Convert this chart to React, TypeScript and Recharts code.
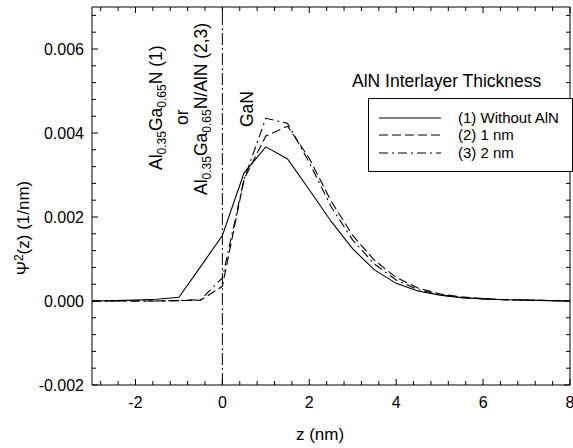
import React from 'react';
import { LineChart, Line, XAxis, YAxis, ReferenceLine, Legend, Label } from 'recharts';

// z positions (nm) and |psi|^2 (1/nm)
const zValues = [-3, -2.5, -2, -1.5, -1, -0.5, 0, 0.5, 1, 1.5, 2, 2.5, 3, 3.5, 4, 4.5, 5, 5.5, 6, 6.5, 7, 7.5, 8];
const withoutAlN = [0, 0.00001, 0.00002, 0.00004, 0.00009, 0.00082, 0.00156, 0.00305, 0.00367, 0.00338, 0.00265, 0.0019, 0.00124, 0.00074, 0.00042, 0.00024, 0.00014, 0.00008, 0.00005, 0.00003, 0.00002, 0.00001, 0];
const alN1nm = [0, 0, 0, 0, 0.00001, 0.00002, 0.00035, 0.0029, 0.00393, 0.00416, 0.0034, 0.00238, 0.00156, 0.00097, 0.00056, 0.00031, 0.00017, 0.0001, 0.00006, 0.00003, 0.00002, 0.00001, 0];
const alN2nm = [0, 0, 0, 0, 0.00001, 0.00003, 0.00055, 0.0029, 0.00435, 0.00423, 0.0033, 0.00225, 0.00145, 0.00088, 0.0005, 0.00027, 0.00015, 0.00008, 0.00005, 0.00003, 0.00002, 0.00001, 0];

const seriesNames = ['(1) Without AlN', '(2) 1 nm', '(3) 2 nm'];
const xLabelTicks = [-2, 0, 2, 4, 6, 8];
const yLabelTicks = [-0.002, 0, 0.002, 0.004, 0.006];

const FONT = '"Liberation Sans", Arial, Helvetica, sans-serif';
const dashes = ['', '9 4', '9 4 2 4'];

const data = zValues.map((z, i) => ({ z, s1: withoutAlN[i], s2: alN1nm[i], s3: alN2nm[i] }));

// minor ticks: 0.4 nm and 0.0004 1/nm
const xTicks = Array.from({ length: 28 }, (_, i) => +(-2.8 + 0.4 * i).toFixed(1));
const yTicks = Array.from({ length: 23 }, (_, i) => +(-0.002 + 0.0004 * i).toFixed(4));

const isMajor = (v: number, list: number[]) => list.some((t) => Math.abs(t - v) < 1e-9);

function BottomTick({ x, y, payload }: any) {
  const major = isMajor(payload.value, xLabelTicks);
  return (
    <g>
      <line x1={x} x2={x} y1={y} y2={y - (major ? 6 : 4)} stroke="#000" />
      {major && (
        <text x={x} y={y + 23} textAnchor="middle" fontSize={16} fontFamily={FONT} fill="#000">
          {payload.value}
        </text>
      )}
    </g>
  );
}

function TopTick({ x, y, payload }: any) {
  const major = isMajor(payload.value, xLabelTicks);
  return <line x1={x} x2={x} y1={y} y2={y + (major ? 6 : 4)} stroke="#000" />;
}

function LeftTick({ x, y, payload }: any) {
  const major = isMajor(payload.value, yLabelTicks);
  return (
    <g>
      <line x1={x} x2={x + (major ? 6 : 4)} y1={y} y2={y} stroke="#000" />
      {major && (
        <text x={x - 8} y={y} dy="0.36em" textAnchor="end" fontSize={16} fontFamily={FONT} fill="#000">
          {payload.value.toFixed(3)}
        </text>
      )}
    </g>
  );
}

function RightTick({ x, y, payload }: any) {
  const major = isMajor(payload.value, yLabelTicks);
  return <line x1={x} x2={x - (major ? 6 : 4)} y1={y} y2={y} stroke="#000" />;
}

function YTitle() {
  const x = 29;
  const y = 228;
  return (
    <text x={x} y={y} transform={`rotate(-90, ${x}, ${y})`} textAnchor="middle" fontSize={17} fontFamily={FONT} fill="#000">
      Ψ<tspan fontSize={12} dy={-6}>2</tspan>
      <tspan dy={6}>(z) (1/nm)</tspan>
    </text>
  );
}

function Rotated({ x, y, children }: any) {
  return (
    <text x={x} y={y} transform={`rotate(-90, ${x}, ${y})`} fontSize={17.5} fontFamily={FONT} fill="#000">
      {children}
    </text>
  );
}

function Notes({ viewBox }: any) {
  const vx = viewBox.x;
  return (
    <g>
      <Rotated x={vx - 60} y={170}>
        Al<tspan fontSize={12} dy={4}>0.35</tspan>
        <tspan dy={-4}>Ga</tspan>
        <tspan fontSize={12} dy={4}>0.65</tspan>
        <tspan dy={-4}>N (1)</tspan>
      </Rotated>
      <Rotated x={vx - 34} y={125}>or</Rotated>
      <Rotated x={vx - 15} y={195}>
        Al<tspan fontSize={12} dy={4}>0.35</tspan>
        <tspan dy={-4}>Ga</tspan>
        <tspan fontSize={12} dy={4}>0.65</tspan>
        <tspan dy={-4}>N/AlN (2,3)</tspan>
      </Rotated>
      <Rotated x={vx + 31} y={127}>GaN</Rotated>
    </g>
  );
}

function LegendBox({ payload }: any) {
  const rows = (payload || []).slice(0, 3);
  const centers = [48, 65, 83];
  return (
    <div style={{ position: 'relative', width: 223, height: 104, fontFamily: FONT, color: '#000' }}>
      <div style={{ position: 'absolute', left: 2, top: 1, fontSize: 17.5, lineHeight: '20px', whiteSpace: 'nowrap' }}>
        AlN Interlayer Thickness
      </div>
      <div
        style={{
          position: 'absolute',
          left: 18,
          top: 28,
          width: 205,
          height: 74,
          boxSizing: 'border-box',
          border: '1px solid #000',
          background: '#fff',
        }}
      />
      {rows.map((entry: any, i: number) => (
        <React.Fragment key={i}>
          <svg style={{ position: 'absolute', left: 29, top: centers[i] - 2 }} width={62} height={4}>
            <line x1={0} x2={62} y1={2} y2={2} stroke="#000" strokeWidth={1.1} strokeDasharray={dashes[i]} />
          </svg>
          <div style={{ position: 'absolute', left: 108, top: centers[i] - 9, fontSize: 15, lineHeight: '18px', whiteSpace: 'nowrap' }}>
            {entry.value}
          </div>
        </React.Fragment>
      ))}
    </div>
  );
}

export default function App() {
  return (
    <div style={{ position: 'absolute', left: 0, top: 0, background: '#fff' }}>
      <LineChart width={573} height={448} data={data} margin={{ top: 6, right: 2, bottom: 0, left: 0 }}>
        <XAxis
          dataKey="z"
          type="number"
          domain={[-3, 8]}
          ticks={xTicks}
          interval={0}
          height={63}
          tickSize={0}
          tickMargin={0}
          tick={<BottomTick />}
          stroke="#000"
          allowDataOverflow
        >
          <Label value="z (nm)" position="insideBottom" offset={8} dx={-11} fontSize={17} fontFamily={FONT} fill="#000" />
        </XAxis>
        <XAxis
          xAxisId="top"
          orientation="top"
          dataKey="z"
          type="number"
          domain={[-3, 8]}
          ticks={xTicks}
          interval={0}
          height={1}
          tickSize={0}
          tickMargin={0}
          tick={<TopTick />}
          stroke="#000"
          allowDataOverflow
        />
        <YAxis
          type="number"
          domain={[-0.002, 0.007]}
          ticks={yTicks}
          interval={0}
          width={92}
          tickSize={0}
          tickMargin={0}
          tick={<LeftTick />}
          stroke="#000"
          allowDataOverflow
        >
          <Label content={<YTitle />} />
        </YAxis>
        <YAxis
          yAxisId="right"
          orientation="right"
          type="number"
          domain={[-0.002, 0.007]}
          ticks={yTicks}
          interval={0}
          width={1}
          tickSize={0}
          tickMargin={0}
          tick={<RightTick />}
          stroke="#000"
          allowDataOverflow
        />
        <ReferenceLine x={0} stroke="#000" strokeDasharray="12 3 2 3">
          <Label content={<Notes />} />
        </ReferenceLine>
        <Legend
          layout="vertical"
          align="center"
          verticalAlign="middle"
          content={<LegendBox />}
          wrapperStyle={{ left: 350, top: 70, width: 223, height: 104 }}
        />
        <Line type="linear" dataKey="s1" name={seriesNames[0]} stroke="#000" strokeWidth={1.1} dot={false} isAnimationActive={false} />
        <Line type="linear" dataKey="s2" name={seriesNames[1]} stroke="#000" strokeWidth={1.1} strokeDasharray={dashes[1]} dot={false} isAnimationActive={false} />
        <Line type="linear" dataKey="s3" name={seriesNames[2]} stroke="#000" strokeWidth={1.1} strokeDasharray={dashes[2]} dot={false} isAnimationActive={false} />
      </LineChart>
    </div>
  );
}
